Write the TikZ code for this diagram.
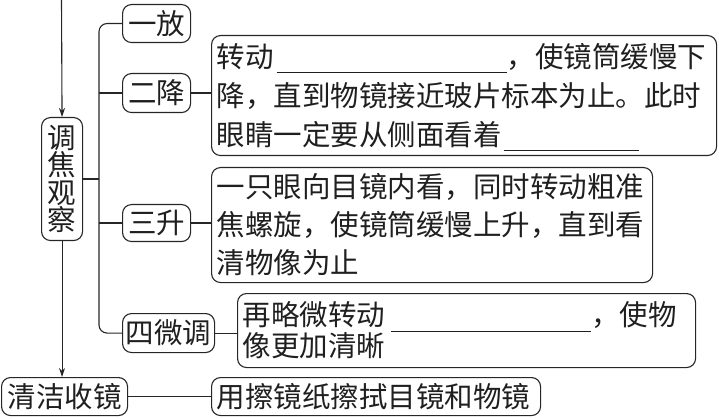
\documentclass[tikz,border=0pt]{standalone}
\usepackage{fontspec}
\newfontfamily\cjk{Noto Sans CJK SC}
\usetikzlibrary{arrows.meta}
\newcommand{\blank}[1]{\rule[-6pt]{#1}{0.8pt}}
\begin{document}
\begin{tikzpicture}[x=1pt,y=-1pt,
  every node/.style={font=\cjk\fontsize{28.5}{38}\selectfont, text=black!88},
  lbl/.style={draw=black!85, line width=1.1pt, rounded corners=9pt, inner sep=0pt, anchor=north west},
  txt/.style={lbl, align=left, inner xsep=5pt},
  conn/.style={draw=black!85, line width=1.1pt},
  arr/.style={conn, -{Stealth[length=9pt,width=6pt]}}]
\useasboundingbox (0,0) rectangle (719,419);

% left column
\node[lbl, minimum width=41pt, minimum height=123pt, align=center,
      font=\cjk\fontsize{28.5}{27.5}\selectfont] (tiaojiao) at (41,117) {调\\焦\\观\\察};
\node[lbl, minimum width=126pt, minimum height=38pt] (qingjie) at (1,377) {清洁收镜};

% steps
\node[lbl, minimum width=68pt, minimum height=38pt] (yifang) at (122,4) {一放};
\node[lbl, minimum width=68pt, minimum height=39pt] (erjiang) at (122,73) {二降};
\node[lbl, minimum width=68pt, minimum height=37pt] (sansheng) at (122,204) {三升};
\node[lbl, minimum width=92pt, minimum height=39pt] (siwei) at (122,313) {四微调};

% description boxes
\node[txt, text width=495pt, minimum height=120pt,
      font=\cjk\fontsize{28.5}{39}\selectfont] (box1) at (211,35)
  {\strut 转动\hspace{3pt}\blank{230pt}，使镜筒缓慢下\\
   降，直到物镜接近玻片标本为止。此时\\
   眼睛一定要从侧面看着\hspace{2pt}\blank{135pt}};
\node[txt, text width=431pt, minimum height=115pt] (box2) at (211,167)
  {一只眼向目镜内看，同时转动粗准\\
   焦螺旋，使镜筒缓慢上升，直到看\\
   清物像为止};
\node[txt, text width=448pt, minimum height=74pt,
      font=\cjk\fontsize{28.5}{31}\selectfont] (box3) at (237,293)
  {再略微转动\hspace{6pt}\blank{200pt}，使物\\
   像更加清晰};
\node[txt, text width=319pt, minimum height=38pt] (box4) at (211,377)
  {用擦镜纸擦拭目镜和物镜};

% connectors
\coordinate (top) at (61.5,0);
\coordinate (tk) at (99,178);
\draw[arr] (top) -- (tiaojiao.north);
\draw[arr] (tiaojiao.south) -- (tiaojiao.south |- qingjie.north);
\draw[conn] (tiaojiao.east) -- (tiaojiao.east -| tk);
\draw[conn, rounded corners=8pt] (yifang.west) -- (yifang.west -| tk) -- (siwei.west -| tk) -- (siwei.west);
\draw[conn] (erjiang.west -| tk) -- (erjiang.west);
\draw[conn] (sansheng.west -| tk) -- (sansheng.west);
\draw[conn] (erjiang.east) -- (erjiang.east -| box1.west);
\draw[conn] (sansheng.east) -- (sansheng.east -| box2.west);
\draw[conn] (siwei.east) -- (siwei.east -| box3.west);
\draw[conn] (qingjie.east) -- (qingjie.east -| box4.west);
\end{tikzpicture}
\end{document}
